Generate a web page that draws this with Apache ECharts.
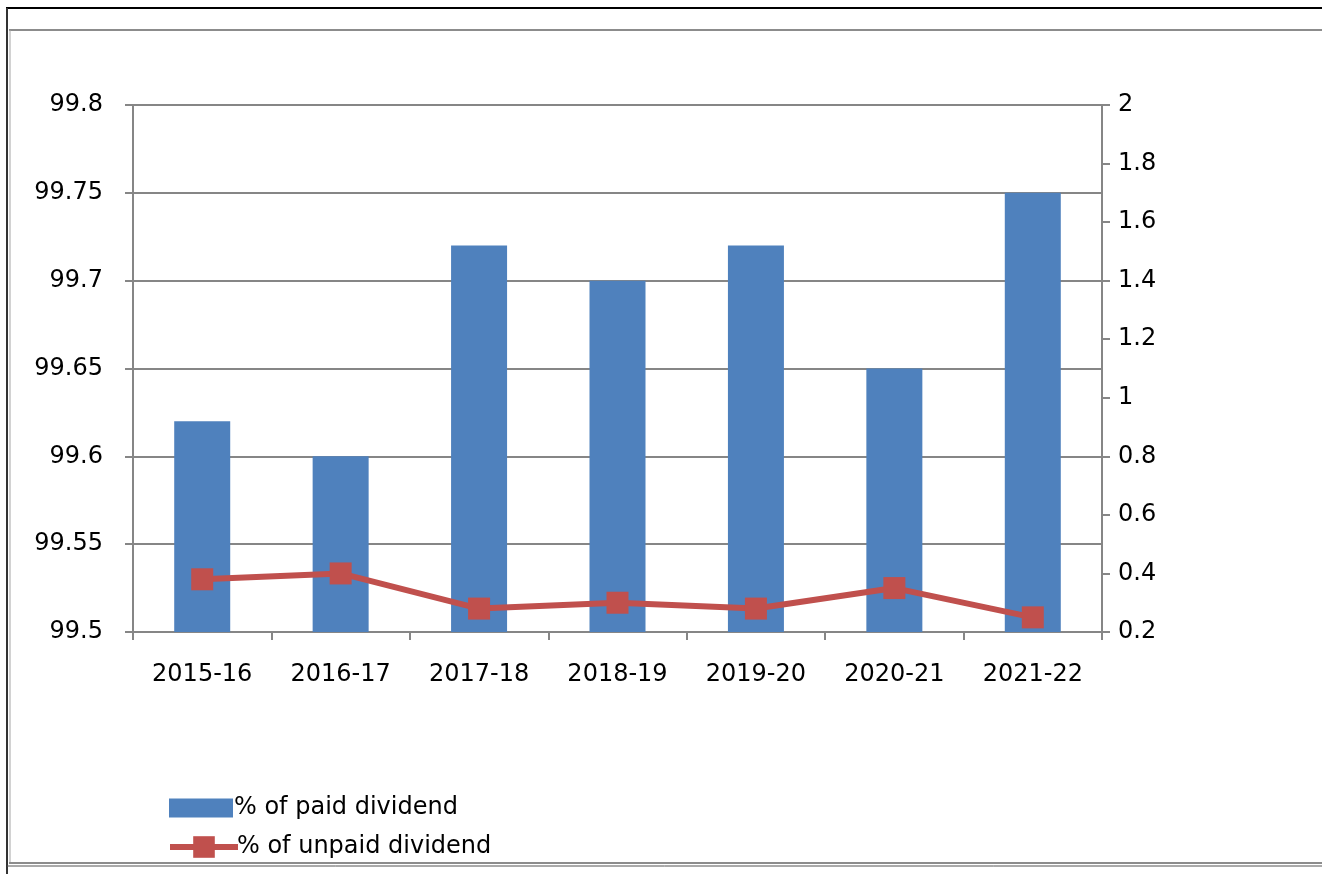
<!DOCTYPE html>
<html>
<head>
<meta charset="utf-8">
<script src="https://cdn.jsdelivr.net/npm/echarts@6/dist/echarts.min.js"></script>
<style>
  html, body { margin: 0; padding: 0; background: #fff; }
  #main { width: 1322px; height: 874px; }
</style>
</head>
<body>
<div id="main"></div>
<script>
  // data
  var years = ['2015-16', '2016-17', '2017-18', '2018-19', '2019-20', '2020-21', '2021-22'];
  var paid = [99.62, 99.60, 99.72, 99.70, 99.72, 99.65, 99.75];
  var unpaid = [0.38, 0.40, 0.28, 0.30, 0.28, 0.35, 0.25];

  var font = 'DejaVu Sans';
  var grey = '#868686';
  var fs = 24;

  var myChart = echarts.init(document.getElementById('main'));
  myChart.setOption({
    animation: false,
    textStyle: { fontFamily: font, color: '#000' },
    // frame round the chart
    graphic: [
      { type: 'line', shape: { x1: 6, y1: 8, x2: 1322, y2: 8 }, style: { stroke: '#000', lineWidth: 2 } },
      { type: 'line', shape: { x1: 7, y1: 8, x2: 7, y2: 874 }, style: { stroke: '#333', lineWidth: 2 } },
      { type: 'line', shape: { x1: 9, y1: 30, x2: 1322, y2: 30 }, style: { stroke: '#8c8c8c', lineWidth: 2 } },
      { type: 'line', shape: { x1: 10, y1: 30, x2: 10, y2: 864 }, style: { stroke: '#a6a6a6', lineWidth: 1 } },
      { type: 'line', shape: { x1: 9, y1: 863, x2: 1322, y2: 863 }, style: { stroke: '#8c8c8c', lineWidth: 2 } },
      { type: 'line', shape: { x1: 7, y1: 866, x2: 1322, y2: 866 }, style: { stroke: '#555', lineWidth: 1 } }
    ],
    grid: { left: 133, right: 220, top: 105, bottom: 242 },
    legend: [
      {
        left: 164,
        top: 791,
        itemWidth: 64,
        itemHeight: 19,
        textStyle: { fontFamily: font, fontSize: fs, color: '#000', padding: [0, 0, 0, -4] },
        data: [{ name: '% of paid dividend', icon: 'rect' }]
      },
      {
        left: 162,
        top: 830,
        itemWidth: 68,
        itemHeight: 27,
        lineStyle: { width: 6 },
        textStyle: { fontFamily: font, fontSize: fs, color: '#000', padding: [0, 0, 0, -6] },
        data: [{ name: '% of unpaid dividend' }]
      }
    ],
    xAxis: {
      type: 'category',
      data: years,
      axisLine: { lineStyle: { color: grey, width: 2 } },
      axisTick: { show: true, length: 8, alignWithLabel: false, lineStyle: { color: grey, width: 2 } },
      axisLabel: { fontFamily: font, fontSize: fs, color: '#000', margin: 31 }
    },
    yAxis: [
      {
        type: 'value',
        min: 99.5,
        max: 99.8,
        interval: 0.05,
        axisLine: { show: true, lineStyle: { color: grey, width: 2 } },
        axisTick: { show: true, length: 8, lineStyle: { color: grey, width: 2 } },
        splitLine: { lineStyle: { color: grey, width: 2 } },
        axisLabel: {
          fontFamily: font, fontSize: fs, color: '#000', margin: 30,
          formatter: function (v) { return String(+v.toFixed(2)); }
        }
      },
      {
        type: 'value',
        min: 0.2,
        max: 2,
        interval: 0.2,
        position: 'right',
        axisLine: { show: true, lineStyle: { color: grey, width: 2 } },
        axisTick: { show: true, length: 8, lineStyle: { color: grey, width: 2 } },
        splitLine: { show: false },
        axisLabel: {
          fontFamily: font, fontSize: fs, color: '#000', margin: 16,
          formatter: function (v) { return String(+v.toFixed(1)); }
        }
      }
    ],
    series: [
      {
        name: '% of paid dividend',
        type: 'bar',
        data: paid,
        barWidth: 56,
        itemStyle: { color: '#4F81BD' }
      },
      {
        name: '% of unpaid dividend',
        type: 'line',
        yAxisIndex: 1,
        data: unpaid,
        symbol: 'rect',
        symbolSize: 22,
        lineStyle: { color: '#C0504D', width: 6 },
        itemStyle: { color: '#C0504D' }
      }
    ]
  });
</script>
</body>
</html>
